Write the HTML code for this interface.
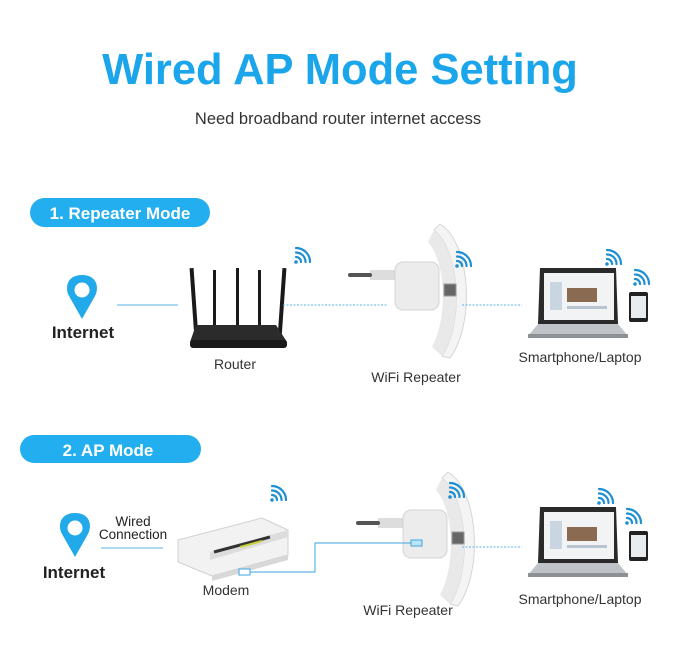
<!DOCTYPE html>
<html><head><meta charset="utf-8"><style>
html,body{margin:0;padding:0;background:#fff;}
svg{display:block;font-family:"Liberation Sans",Arial,sans-serif;}
</style></head><body>
<svg width="688" height="653" viewBox="0 0 688 653" xmlns="http://www.w3.org/2000/svg">
<defs>
<g id="wifi" fill="none" stroke="#1e8fd0" stroke-width="2.2" stroke-linecap="round">
<circle cx="0" cy="0" r="1.8" fill="#1e8fd0" stroke="none"/>
<path d="M0,-5 A5,5 0 0 1 5,0"/><path d="M0,-9.5 A9.5,9.5 0 0 1 9.5,0"/><path d="M0,-14 A14,14 0 0 1 14,0"/>
</g>
<g id="pin">
<path d="M0,0 C-16,0 -17,14 -13,21 L0,44 L13,21 C17,14 16,0 0,0Z" fill="#22a9e9"/>
<circle cx="0" cy="15" r="7.5" fill="#fff"/>
</g>
<g id="rep">
<rect x="-20" y="48" width="26" height="10" fill="#ddd"/>
<rect x="-42" y="51" width="24" height="4" rx="2" fill="#555"/>
<rect x="5" y="40" width="44" height="48" rx="8" fill="#ececec" stroke="#d4d4d4"/>
<path d="M50,2 C80,20 86,100 60,136 L52,134 C74,100 70,30 44,8Z" fill="#f4f4f4" stroke="#d6d6d6"/>
<path d="M44,8 C70,30 74,100 52,134 L42,125 C58,95 56,40 38,20Z" fill="#e9e9e9"/>
<rect x="54" y="62" width="12" height="12" fill="#666" stroke="#999"/>
</g>
<g id="lap">
<path d="M8,0 L84,0 L86,56 L6,56Z" fill="#2a2a2a"/>
<rect x="12" y="5" width="70" height="47" fill="#f1f3f5"/>
<rect x="35" y="20" width="30" height="14" fill="#8a6a50"/>
<rect x="18" y="14" width="12" height="28" fill="#c9d6e2"/>
<rect x="35" y="38" width="40" height="3" fill="#b8c4cf"/>
<path d="M6,56 L86,56 L96,68 L-4,68Z" fill="#bfc3c7"/>
<rect x="-4" y="66" width="100" height="4" fill="#8d9195"/>
<rect x="97" y="24" width="19" height="30" rx="2" fill="#222"/>
<rect x="99" y="28" width="15" height="22" fill="#e8ecef"/>
</g>
</defs>

<text x="340" y="84" text-anchor="middle" font-size="43.5" font-weight="bold" fill="#1ba5ea">Wired AP Mode Setting</text>
<text x="338" y="124" text-anchor="middle" font-size="16.5" fill="#333">Need broadband router internet access</text>

<rect x="30" y="198" width="180" height="29" rx="14.5" fill="#22aeef"/>
<text x="120" y="219" text-anchor="middle" font-size="17" font-weight="bold" fill="#fff">1. Repeater Mode</text>
<rect x="20" y="435" width="181" height="28" rx="14" fill="#22aeef"/>
<text x="108" y="456" text-anchor="middle" font-size="17" font-weight="bold" fill="#fff">2. AP Mode</text>

<!-- Section 1 -->
<use href="#pin" x="82" y="275"/>
<text x="83" y="338" text-anchor="middle" font-size="17" font-weight="bold" fill="#222">Internet</text>
<line x1="117" y1="305" x2="178" y2="305" stroke="#5ab4e3" stroke-width="1"/>
<g fill="#1a1a1a">
<rect x="192" y="268" width="4" height="70" transform="rotate(-4 194 303)"/>
<rect x="213" y="270" width="3" height="60"/>
<rect x="236" y="268" width="3" height="60"/>
<rect x="258" y="270" width="3" height="60"/>
<rect x="280" y="268" width="4" height="70" transform="rotate(4 282 303)"/>
<path d="M196,325 L276,325 L287,342 L190,342Z" fill="#2b2b2b"/>
<rect x="190" y="340" width="97" height="8" rx="3"/>
</g>
<use href="#wifi" x="296" y="262"/>
<text x="235" y="369" text-anchor="middle" font-size="14" fill="#333">Router</text>
<line x1="283" y1="305" x2="388" y2="305" stroke="#5ab4e3" stroke-width="1" stroke-dasharray="2,1.5"/>
<use href="#rep" x="390" y="222"/>
<use href="#wifi" x="457" y="266"/>
<text x="416" y="382" text-anchor="middle" font-size="14" fill="#333">WiFi Repeater</text>
<line x1="462" y1="305" x2="522" y2="305" stroke="#5ab4e3" stroke-width="1" stroke-dasharray="2,1.5"/>
<use href="#lap" x="532" y="268"/>
<use href="#wifi" x="607" y="264"/>
<use href="#wifi" x="635" y="284"/>
<text x="580" y="362" text-anchor="middle" font-size="14" fill="#333">Smartphone/Laptop</text>

<!-- Section 2 -->
<use href="#pin" x="75" y="513"/>
<text x="74" y="578" text-anchor="middle" font-size="17" font-weight="bold" fill="#222">Internet</text>
<text x="133" y="526" text-anchor="middle" font-size="13.5" fill="#222">Wired</text>
<text x="133" y="539" text-anchor="middle" font-size="13.5" fill="#222">Connection</text>
<line x1="101" y1="548" x2="163" y2="548" stroke="#5ab4e3" stroke-width="1"/>
<path d="M178,540 L262,518 L288,530 L288,555 L212,576 L178,562Z" fill="#f2f2f2" stroke="#d0d0d0"/>
<path d="M210,552 L288,530 L288,537 L210,560Z" fill="#ddd"/>
<path d="M214,552 L270,537" stroke="#333" stroke-width="3"/>
<path d="M240,547 L262,541" stroke="#c8d23a" stroke-width="2"/>
<path d="M212,576 L288,555 L288,560 L212,581Z" fill="#d8d8d8"/>
<use href="#wifi" x="272" y="500"/>
<text x="226" y="595" text-anchor="middle" font-size="14" fill="#333">Modem</text>
<use href="#rep" x="398" y="470"/>
<use href="#wifi" x="450" y="497"/>
<path d="M250,572 L315,572 L315,543 L420,543" fill="none" stroke="#3aa6df" stroke-width="1"/>
<rect x="239" y="569" width="11" height="6" fill="#fff" stroke="#3aa6df"/>
<rect x="411" y="540" width="11" height="6" fill="#bde3f7" stroke="#3aa6df"/>
<text x="408" y="615" text-anchor="middle" font-size="14" fill="#333">WiFi Repeater</text>
<line x1="462" y1="547" x2="522" y2="547" stroke="#5ab4e3" stroke-width="1" stroke-dasharray="2,1.5"/>
<use href="#lap" x="532" y="507"/>
<use href="#wifi" x="599" y="503"/>
<use href="#wifi" x="627" y="523"/>
<text x="580" y="604" text-anchor="middle" font-size="14" fill="#333">Smartphone/Laptop</text>
</svg>
</body></html>
